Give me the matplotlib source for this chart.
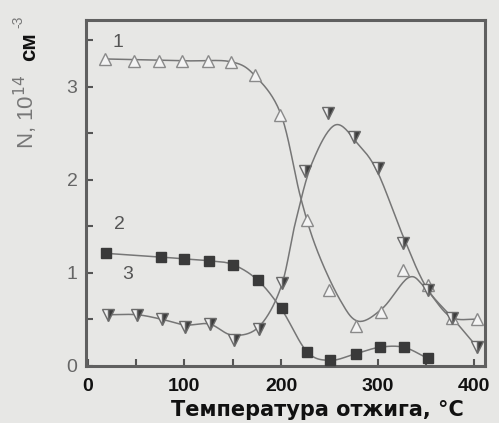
import numpy as np
import matplotlib
matplotlib.use("Agg")
import matplotlib.pyplot as plt

# --- data ---
# curve 1 (open up-triangles)
t1 = [18, 48, 74, 98, 124, 148, 173, 199, 227, 250, 277, 303, 326, 352, 377, 403]
n1 = [3.30, 3.28, 3.28, 3.28, 3.28, 3.27, 3.13, 2.70, 1.57, 0.82, 0.43, 0.58, 1.03, 0.87, 0.52, 0.50]
# curve 2 (filled squares)
t2 = [19, 76, 100, 125, 150, 176, 201, 227, 251, 277, 302, 327, 352]
n2 = [1.21, 1.17, 1.15, 1.13, 1.09, 0.92, 0.62, 0.15, 0.06, 0.13, 0.20, 0.20, 0.08]
# curve 3 (half-filled down-triangles)
t3 = [21, 51, 77, 101, 126, 151, 177, 201, 225, 249, 275, 300, 326, 352, 377, 403]
n3 = [0.55, 0.55, 0.50, 0.42, 0.45, 0.28, 0.40, 0.89, 2.09, 2.72, 2.46, 2.13, 1.32, 0.82, 0.52, 0.20]

# smooth guide lines as drawn in the picture (knots)
g1_t = [18, 100, 148, 173, 200, 220, 237, 261, 280, 305, 332, 349, 375, 403]
g1_n = [3.30, 3.28, 3.27, 3.12, 2.70, 1.82, 1.25, 0.71, 0.48, 0.62, 0.95, 0.84, 0.53, 0.50]
g2_t = t2
g2_n = [1.21, 1.17, 1.15, 1.13, 1.09, 0.92, 0.60, 0.15, 0.06, 0.13, 0.20, 0.20, 0.08]
g3_t = [21, 51, 77, 101, 126, 150, 177, 200, 215, 232, 256, 280, 300, 326, 350, 377, 403]
g3_n = [0.55, 0.55, 0.50, 0.44, 0.45, 0.33, 0.42, 0.85, 1.55, 2.18, 2.59, 2.38, 2.08, 1.40, 0.85, 0.52, 0.20]

xticks = [0, 100, 200, 300, 400]
yticks = [0, 1, 2, 3]
labels = ["1", "2", "3"]


def catmull(xs, ys, n=20):
    xs = np.asarray(xs, float); ys = np.asarray(ys, float)
    px = np.concatenate([[2*xs[0]-xs[1]], xs, [2*xs[-1]-xs[-2]]])
    py = np.concatenate([[2*ys[0]-ys[1]], ys, [2*ys[-1]-ys[-2]]])
    ox, oy = [], []
    s = np.linspace(0, 1, n, endpoint=False)
    for i in range(1, len(px) - 2):
        for P, out in ((px, ox), (py, oy)):
            p0, p1, p2, p3 = P[i-1], P[i], P[i+1], P[i+2]
            out.extend(0.5*((2*p1) + (-p0+p2)*s + (2*p0-5*p1+4*p2-p3)*s**2 + (-p0+3*p1-3*p2+p3)*s**3))
    ox.append(xs[-1]); oy.append(ys[-1])
    return np.array(ox), np.array(oy)


bg = "#e7e7e5"
plt.rcParams['font.family'] = ['Liberation Sans', 'DejaVu Sans']
fig = plt.figure(figsize=(4.99, 4.23), dpi=100, facecolor=bg)
ax = fig.add_axes([0.172, 0.135, 0.800, 0.818], facecolor=bg)

lc = "#767676"
for gt, gn in ((g1_t, g1_n), (g2_t, g2_n), (g3_t, g3_n)):
    x, y = catmull(gt, gn)
    ax.plot(x, y, color=lc, lw=1.1, zorder=2)

ax.plot(t1, n1, ls="none", marker="^", ms=9, mfc="#f4f4f4", mec="#8a8a8a", mew=1.0, zorder=3)
ax.plot(t2, n2, ls="none", marker="s", ms=7, mfc="#3a3a3a", mec="#3a3a3a", zorder=3)
ax.plot(t3, n3, ls="none", marker="v", ms=9, fillstyle="right", mfc="#3c3c3c",
        markerfacecoloralt="#efefef", mec="#6a6a6a", mew=1.0, zorder=3)

ax.text(31, 3.48, labels[0], fontsize=14, color="#555555", ha="center", va="center")
ax.text(33, 1.52, labels[1], fontsize=14, color="#555555", ha="center", va="center")
ax.text(41, 0.98, labels[2], fontsize=14, color="#555555", ha="center", va="center")

ax.set_xlim(-2, 411)
ax.set_ylim(0, 3.72)
ax.set_xticks(xticks)
ax.set_xticks(np.arange(50, 400, 100), minor=True)
ax.set_yticks(yticks)
ax.set_yticks([0.5, 1.5, 2.5, 3.5], minor=True)
ax.tick_params(which="both", direction="in", length=5, width=1.5, color="#555555")
ax.tick_params(axis="x", labelsize=14, labelcolor="#111111", pad=9)
ax.tick_params(axis="y", labelsize=14, labelcolor="#666666", pad=6)
for lab in ax.get_xticklabels():
    lab.set_fontweight("bold")
for sp in ax.spines.values():
    sp.set_color("#606060")
    sp.set_linewidth(2.2)

fig.text(0.637, 0.030, "Температура отжига, °C", fontsize=15, fontweight="bold",
         color="#111111", ha="center", va="center", family=["DejaVu Sans"])

fig.text(0.052, 0.735, "N, 10$^{14}$", rotation=90, fontsize=16, color="#777777",
         ha="center", va="center")
fig.text(0.060, 0.889, "см", rotation=90, fontsize=16, fontweight="bold", color="#111111",
         ha="center", va="center")
fig.text(0.036, 0.948, "-3", rotation=90, fontsize=10, color="#777777", ha="center", va="center")

fig.savefig("out.png", dpi=100, facecolor=bg)
